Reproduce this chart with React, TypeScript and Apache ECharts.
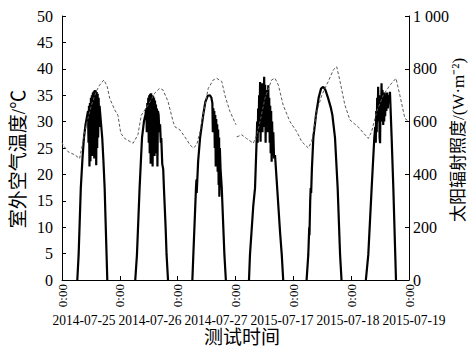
import React, { useEffect, useRef } from "react";
import * as echarts from "echarts";

// ---------- data ----------
const dayStarts = [0, 24, 48, 72, 96, 120];
const dateLabels = ["2014-07-25", "2014-07-26", "2014-07-27", "2015-07-17", "2015-07-18", "2015-07-19"];

// solar radiation, hours relative to each day's 0:00, W/m2
const solarDay1H = [6.35, 6.9, 7.8, 8.5, 9.1, 9.8, 10.5, 10.8, 11.0, 11.2, 11.4, 11.6, 11.8, 12.0, 12.2, 12.4, 12.6, 12.8, 13.0, 13.2, 13.4, 13.6, 13.8, 14.0, 14.2, 14.4, 14.6, 14.8, 15.0, 15.2, 15.4, 15.6, 15.9, 16.7, 17.2, 17.7, 18.1, 18.5, 18.8];
const solarDay1V = [0, 95, 348, 460, 538, 590, 625, 640, 520, 660, 430, 670, 450, 690, 500, 700, 470, 710, 520, 715, 460, 720, 480, 718, 435, 712, 500, 705, 540, 690, 580, 660, 625, 538, 450, 348, 220, 95, 0];

const solarDay2H = [6.4, 7.1, 8.2, 9.2, 10.0, 10.6, 11.0, 11.2, 11.4, 11.6, 11.8, 12.0, 12.2, 12.4, 12.6, 12.8, 13.0, 13.2, 13.4, 13.6, 13.8, 14.0, 14.2, 14.4, 14.6, 14.8, 15.0, 15.2, 15.4, 15.6, 15.8, 16.1, 16.4, 16.7, 17.0, 17.2, 17.6, 18.0, 18.3, 19.0, 19.4, 20.0];
const solarDay2V = [0, 95, 348, 538, 600, 625, 650, 560, 670, 600, 690, 520, 700, 480, 705, 440, 707, 500, 700, 430, 698, 540, 690, 470, 680, 520, 665, 480, 650, 430, 640, 625, 560, 590, 520, 538, 440, 420, 348, 200, 95, 0];

const solarDay3H = [6.1, 6.5, 7.6, 7.8, 7.9, 8.5, 9.3, 10.6, 11.5, 12.5, 13.4, 14.0, 14.4, 14.6, 14.8, 15.0, 15.2, 15.4, 15.6, 15.8, 16.0, 16.2, 16.4, 16.6, 16.8, 17.0, 17.2, 17.3, 17.5, 17.8, 18.3, 19.4, 20.0];
const solarDay3V = [0, 95, 348, 380, 330, 450, 538, 625, 675, 698, 700, 690, 670, 560, 650, 600, 640, 500, 625, 430, 610, 520, 590, 410, 570, 360, 540, 315, 500, 420, 348, 95, 0];

const solarDay4H = [5.6, 6.0, 7.4, 8.1, 8.8, 9.0, 9.2, 9.4, 9.6, 9.8, 10.0, 10.2, 10.4, 10.6, 10.8, 11.0, 11.2, 11.4, 11.6, 11.9, 12.1, 12.3, 12.5, 12.7, 12.9, 13.1, 13.3, 13.6, 13.8, 14.0, 14.2, 14.4, 14.6, 14.8, 15.0, 15.2, 15.4, 15.7, 16.0, 16.4, 17.3, 18.5, 19.2, 19.8];
const solarDay4V = [0, 95, 284, 348, 538, 600, 520, 650, 560, 700, 600, 750, 524, 720, 600, 745, 560, 730, 640, 770, 580, 740, 520, 720, 650, 700, 560, 738, 600, 690, 520, 660, 480, 640, 448, 600, 500, 560, 460, 473, 348, 180, 95, 0];

const solarDay5H = [5.5, 6.2, 6.6, 6.7, 7.0, 7.2, 7.4, 7.7, 8.3, 9.4, 10.5, 11.5, 12.4, 13.3, 14.4, 15.5, 16.2, 17.3, 18.4, 19.4, 20.0];
const solarDay5V = [0, 95, 200, 170, 300, 348, 330, 420, 538, 625, 690, 725, 732, 720, 690, 655, 625, 538, 348, 95, 0];

const solarDay6H = [6.1, 7.1, 8.5, 9.6, 10.0, 10.2, 10.4, 10.6, 10.8, 11.0, 11.2, 11.4, 11.6, 11.8, 12.0, 12.2, 12.4, 12.6, 12.8, 13.0, 13.3, 13.5, 13.7, 13.9, 14.1, 14.3, 14.6, 14.9, 15.2, 15.5, 15.8, 16.1, 16.8, 17.5, 18.3, 18.6];
const solarDay6V = [0, 95, 348, 538, 580, 520, 640, 560, 690, 600, 732, 620, 700, 540, 518, 690, 600, 745, 640, 720, 587, 700, 600, 710, 620, 700, 640, 710, 650, 700, 680, 713, 538, 348, 95, 0];

const solarDaysH = [solarDay1H, solarDay2H, solarDay3H, solarDay4H, solarDay5H, solarDay6H];
const solarDaysV = [solarDay1V, solarDay2V, solarDay3V, solarDay4V, solarDay5V, solarDay6V];

// outdoor air temperature, absolute hours, degC (null = gap between measurement periods)
const tempHours = [0, 0.4, 2.5, 5.3, 7.3, 8.7, 10.1, 12.2, 14.2, 15.6, 17.4, 18.8, 19.8, 21.9, 23.2, 24.4, 26.0, 29.5, 31.5, 32.9, 35.7, 38.5, 40.5, 41.9, 44.0, 46.1, 46.9, 49.0, 51.0, 53.1, 54.5, 55.9, 57.3, 59.3, 60.7, 62.8, 64.2, 66.3, 67.6, 69.7, 72.2, 72.35, 72.5, 74.6, 76.6, 79.4, 80.8, 82.2, 84.2, 87.0, 88.4, 89.8, 91.8, 94.6, 97.4, 99.5, 102.2, 103.6, 105.7, 107.8, 110.5, 112.6, 114.0, 115.4, 117.4, 119.5, 122.9, 127.1, 128.5, 130.6, 133.3, 136.1, 138.6, 140.2, 142.3, 144.0];
const tempValues = [26.1, 25.6, 24.3, 23.7, 23.0, 26.2, 29.4, 33.1, 35.7, 36.9, 37.9, 36.6, 34.4, 32.2, 31.2, 27.8, 26.8, 25.9, 27.5, 31.2, 33.1, 35.4, 36.3, 36.0, 33.8, 30.0, 29.0, 28.4, 27.1, 25.6, 25.0, 25.6, 28.1, 33.1, 36.3, 37.9, 38.2, 37.6, 35.0, 31.9, 29.4, null, 27.1, 27.5, 26.8, 25.9, 27.5, 30.0, 34.4, 37.9, 38.2, 36.9, 33.1, 30.0, 28.1, 26.2, 25.0, 26.2, 31.9, 35.0, 37.6, 39.8, 40.4, 37.6, 33.1, 30.3, 29.0, 26.8, 28.1, 31.9, 35.0, 36.9, 38.2, 35.0, 30.6, 30.0];

const leftTicks = { min: 0, max: 50, interval: 5 };
const rightTicks = { min: 0, max: 1000, interval: 200 };
const xTicks = { min: 0, max: 144, interval: 24 };

const leftTitle = "室外空气温度/℃";
const rightTitle = "太阳辐射照度/(W·m⁻²)";
const xTitle = "测试时间";

const FONT = "'Liberation Serif', 'Noto Sans CJK SC', serif";

export default function App() {
  const ref = useRef<HTMLDivElement>(null);
  useEffect(() => {
    if (!ref.current) return;
    const chart = echarts.init(ref.current, undefined, { renderer: "svg" });

    const solarData: (number | null)[][] = [];
    solarDaysH.forEach((hs, d) => {
      hs.forEach((h, i) => solarData.push([dayStarts[d] + h, solarDaysV[d][i]]));
      if (d < solarDaysH.length - 1) solarData.push([dayStarts[d] + 22, null]);
    });
    const tempData = tempHours.map((h, i) => [h, tempValues[i]]);

    const titleStyle = (text: string, size: number) => ({
      text,
      fontFamily: FONT,
      fontSize: size,
      fill: "#000",
      align: "center",
      verticalAlign: "middle",
    });

    chart.setOption({
      animation: false,
      grid: { left: 62, right: 59, top: 16, bottom: 67 },
      xAxis: {
        type: "value",
        ...xTicks,
        axisLine: { lineStyle: { color: "#000", width: 1 } },
        axisTick: { inside: true, length: 4, lineStyle: { color: "#000" } },
        splitLine: { show: false },
        axisLabel: {
          formatter: () => "0:00",
          rotate: 90,
          fontFamily: FONT,
          fontSize: 13,
          color: "#000",
          margin: 4,
        },
      },
      yAxis: [
        {
          type: "value",
          ...leftTicks,
          position: "left",
          axisLine: { show: true, lineStyle: { color: "#000", width: 1 } },
          axisTick: { show: true, inside: true, length: 4, lineStyle: { color: "#000" } },
          splitLine: { show: false },
          axisLabel: { fontFamily: FONT, fontSize: 16, color: "#000", margin: 9 },
        },
        {
          type: "value",
          ...rightTicks,
          position: "right",
          axisLine: { show: true, lineStyle: { color: "#000", width: 1 } },
          axisTick: { show: true, inside: true, length: 4, lineStyle: { color: "#000" } },
          splitLine: { show: false },
          axisLabel: {
            fontFamily: FONT,
            fontSize: 16,
            color: "#000",
            margin: 4,
            formatter: (v: number) => (v === 1000 ? "1 000" : String(v)),
          },
        },
      ],
      graphic: [
        ...dateLabels.map((t, i) => ({
          type: "text",
          x: 84 + 66 * i,
          y: 320,
          scaleX: 0.9,
          style: {
            text: t,
            fontFamily: FONT,
            fontSize: 15,
            fill: "#000",
            align: "center",
            verticalAlign: "middle",
          },
        })),
        { type: "text", x: 242, y: 337, style: titleStyle(xTitle, 19) },
        { type: "text", x: 18, y: 159, rotation: Math.PI / 2, style: titleStyle(leftTitle, 19) },
        { type: "text", x: 458, y: 140, rotation: Math.PI / 2, style: titleStyle(rightTitle, 17) },
      ],
      series: [
        {
          type: "line",
          name: "温度",
          yAxisIndex: 0,
          data: tempData,
          showSymbol: false,
          connectNulls: false,
          lineStyle: { color: "#5a5a5a", width: 1, type: [3, 2] },
          z: 3,
        },
        {
          type: "line",
          name: "辐射",
          yAxisIndex: 1,
          data: solarData,
          showSymbol: false,
          connectNulls: false,
          lineStyle: { color: "#000", width: 2.2 },
          z: 2,
        },
      ],
    });
    return () => chart.dispose();
  }, []);
  return (
    <div
      ref={ref}
      style={{ position: "fixed", left: 0, top: 0, width: 468, height: 347, background: "#fff" }}
    />
  );
}
